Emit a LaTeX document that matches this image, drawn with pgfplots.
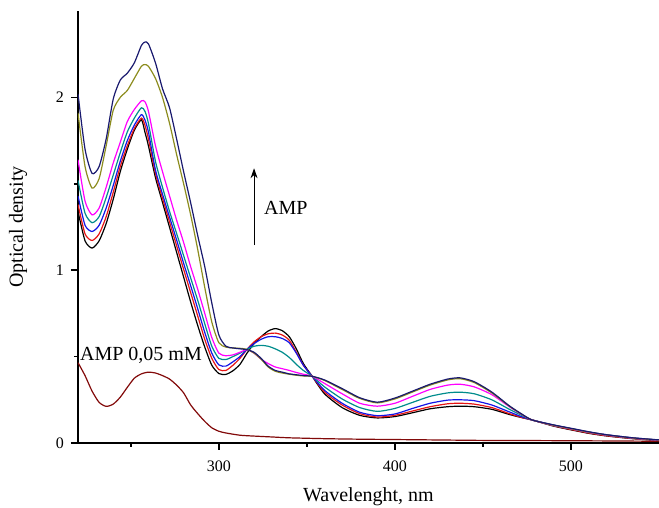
\documentclass[border=0pt]{standalone}
\usepackage{fontspec}
\setmainfont{Liberation Serif}
\usepackage{pgfplots}
\usepackage{pgfplotstable}
\pgfplotsset{compat=1.18}
\usetikzlibrary{arrows.meta}
\definecolor{cnavy}{RGB}{25,25,110}
\definecolor{colive}{RGB}{140,140,30}
\definecolor{cmag}{RGB}{255,0,255}
\definecolor{cteal}{RGB}{0,140,140}
\definecolor{cblue}{RGB}{20,20,230}
\definecolor{cred}{RGB}{230,20,20}
\definecolor{cbrown}{RGB}{130,10,10}
\pgfplotstableread{
x N O M T B R K
220 2.02 1.91 1.64 1.52 1.43 1.38 1.34
224 1.70 1.60 1.40 1.33 1.26 1.21 1.17
228 1.56 1.475 1.32 1.275 1.224 1.172 1.128
232 1.60 1.53 1.36 1.31 1.26 1.21 1.17
236 1.76 1.72 1.48 1.42 1.36 1.31 1.27
240 1.99 1.925 1.62 1.55 1.49 1.45 1.41
244 2.10 2.00 1.74 1.68 1.63 1.60 1.57
248 2.14 2.04 1.86 1.80 1.75 1.72 1.70
252 2.20 2.11 1.93 1.88 1.84 1.82 1.81
256 2.30 2.18 1.98 1.94 1.90 1.88 1.87
258 2.32 2.19 1.975 1.92 1.87 1.84 1.80
260 2.31 2.18 1.92 1.85 1.80 1.76 1.72
264 2.20 2.11 1.72 1.63 1.58 1.56 1.536
268 2.05 2.00 1.57 1.48 1.44 1.416 1.392
272 1.94 1.85 1.43 1.34 1.307 1.279 1.248
276 1.76 1.67 1.29 1.213 1.175 1.142 1.104
280 1.57 1.50 1.16 1.084 1.04 1.005 0.96
284 1.39 1.32 1.02 0.955 0.91 0.87 0.816
288 1.20 1.12 0.89 0.826 0.777 0.735 0.68
292 1.02 0.90 0.75 0.69 0.64 0.60 0.555
296 0.81 0.70 0.61 0.56 0.52 0.49 0.45
300 0.625 0.58 0.52 0.49 0.452 0.425 0.402
304 0.56 0.555 0.505 0.483 0.445 0.42 0.397
308 0.55 0.55 0.51 0.50 0.47 0.45 0.418
312 0.545 0.548 0.525 0.52 0.50 0.49 0.455
316 0.54 0.542 0.54 0.542 0.542 0.542 0.52
320 0.525 0.52 0.52 0.56 0.575 0.585 0.575
324 0.49 0.485 0.485 0.565 0.60 0.615 0.615
328 0.445 0.44 0.46 0.56 0.615 0.632 0.648
332 0.42 0.415 0.44 0.545 0.615 0.636 0.662
336 0.41 0.405 0.43 0.525 0.605 0.625 0.65
340 0.40 0.398 0.42 0.495 0.58 0.595 0.615
344 0.395 0.392 0.408 0.455 0.52 0.525 0.545
348 0.39 0.388 0.398 0.42 0.45 0.45 0.46
353 0.386 0.386 0.386 0.386 0.386 0.386 0.386
360 0.365 0.362 0.345 0.325 0.305 0.295 0.285
370 0.315 0.31 0.285 0.255 0.23 0.22 0.205
380 0.262 0.258 0.23 0.205 0.178 0.17 0.16
390 0.236 0.232 0.213 0.183 0.158 0.15 0.145
400 0.26 0.255 0.23 0.20 0.168 0.16 0.153
410 0.30 0.295 0.27 0.235 0.20 0.185 0.175
420 0.34 0.335 0.31 0.27 0.23 0.21 0.198
430 0.37 0.365 0.335 0.29 0.248 0.227 0.21
437 0.377 0.372 0.34 0.294 0.25 0.23 0.213
445 0.355 0.35 0.325 0.285 0.245 0.225 0.21
455 0.295 0.29 0.28 0.25 0.22 0.205 0.195
465 0.215 0.213 0.21 0.195 0.18 0.17 0.165
472 0.168 0.166 0.165 0.16 0.152 0.148 0.147
478 0.133 0.133 0.133 0.133 0.133 0.133 0.133
490 0.105 0.103 0.102 0.102 0.104 0.10 0.098
500 0.085 0.083 0.082 0.082 0.084 0.078 0.076
510 0.065 0.063 0.062 0.062 0.064 0.058 0.056
520 0.048 0.047 0.046 0.046 0.048 0.042 0.041
535 0.03 0.029 0.028 0.028 0.03 0.026 0.025
550 0.018 0.017 0.016 0.016 0.017 0.015 0.014
}\spectra
\pgfplotstableread{
x A
220 0.465
224 0.39
228 0.30
232 0.235
236 0.212
240 0.225
244 0.265
248 0.322
252 0.375
256 0.40
260 0.41
264 0.405
268 0.39
272 0.37
276 0.335
280 0.29
284 0.22
288 0.17
292 0.125
296 0.088
300 0.068
304 0.058
312 0.045
320 0.04
330 0.035
340 0.03
360 0.025
380 0.022
400 0.02
420 0.018
450 0.015
480 0.014
500 0.013
520 0.012
550 0.01
}\amp
\begin{document}
\begin{tikzpicture}
\path[use as bounding box] (-39pt,-32.5pt) rectangle (290.5pt,221.5pt);
\begin{axis}[
  at={(0,0)}, anchor=south west,
  scale only axis, width=290.5pt, height=216pt,
  xmin=220, xmax=550, ymin=0, ymax=2.5,
  axis x line=bottom, axis y line=left,
  axis line style={-, line width=1pt},
  tick align=outside,
  major tick length=3.5pt, minor tick length=2pt,
  every tick/.style={black, line width=0.8pt},
  xtick={300,400,500}, minor xtick={250,350,450},
  ytick={0,1,2}, minor ytick={0.5,1.5},
  /pgf/number format/assume math mode=true,
  ticklabel style={font=\fontsize{8}{9}\selectfont},
  xticklabel style={yshift=-2pt},
  xlabel={Wavelenght, nm}, ylabel={Optical density},
  label style={font=\fontsize{10}{12}\selectfont},
  xlabel style={at={(axis description cs:0.5,0)}, anchor=center, yshift=-27pt},
  ylabel style={at={(axis description cs:-0.103,0.5)}, anchor=center},
  clip mode=individual,
  every axis plot/.append style={line width=0.6pt, smooth, tension=0.4, no markers},
]
\addplot[cbrown] table[x=x,y=A] {\amp};
\addplot[black] table[x=x,y=K] {\spectra};
\addplot[cred] table[x=x,y=R] {\spectra};
\addplot[cblue] table[x=x,y=B] {\spectra};
\addplot[cteal] table[x=x,y=T] {\spectra};
\addplot[cmag] table[x=x,y=M] {\spectra};
\addplot[colive] table[x=x,y=O] {\spectra};
\addplot[cnavy] table[x=x,y=N] {\spectra};
\draw[-{Stealth[length=5pt,width=3.5pt]}, line width=0.5pt] (axis cs:320,1.145) -- (axis cs:320,1.59);
\node[anchor=west, inner sep=0pt, font=\fontsize{10}{12}\selectfont] at (axis cs:325.5,1.36) {AMP};
\node[anchor=west, inner sep=0pt, font=\fontsize{10}{12}\selectfont] at (axis cs:221,0.505) {AMP 0,05 mM};
\end{axis}
\end{tikzpicture}
\end{document}
